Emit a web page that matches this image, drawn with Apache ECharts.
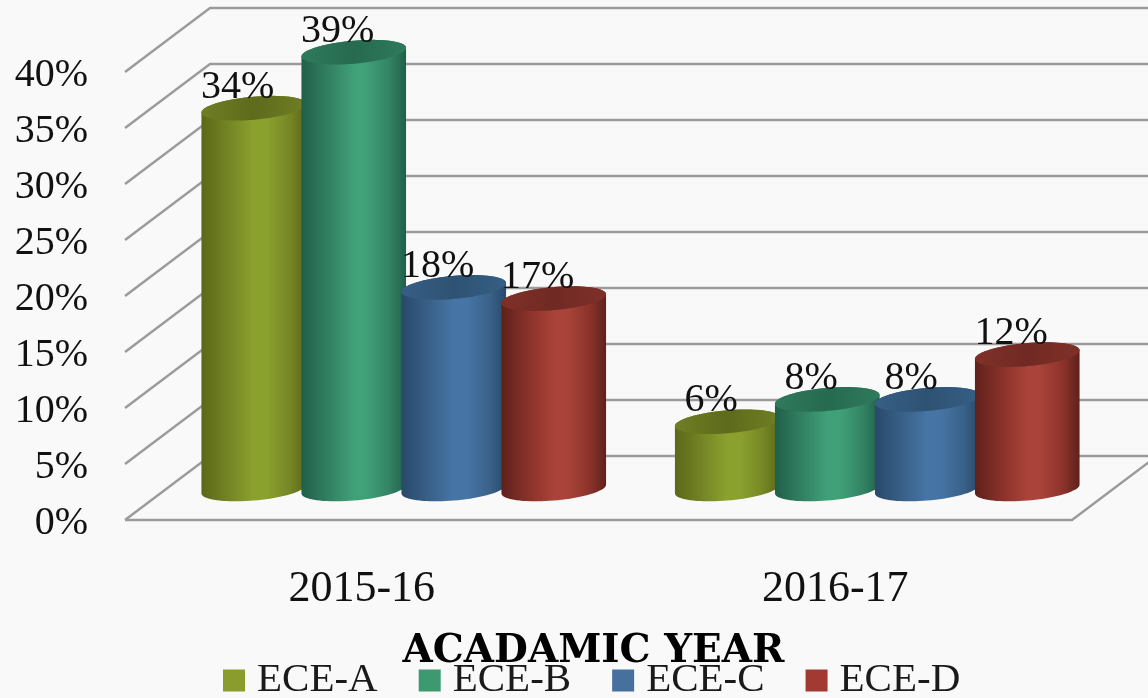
<!DOCTYPE html>
<html>
<head>
<meta charset="utf-8">
<style>html,body{margin:0;padding:0;background:#f9f9f9}#c{width:1148px;height:698px}</style>
<script src="https://cdn.jsdelivr.net/npm/echarts@6/dist/echarts.min.js"></script>
</head>
<body>
<div id="c"></div>
<script>
const categories = ['2015-16', '2016-17'];
const seriesNames = ['ECE-A', 'ECE-B', 'ECE-C', 'ECE-D'];
const eceA = [34, 6];
const eceB = [39, 8];
const eceC = [18, 8];
const eceD = [17, 12];
const yTicks = [0, 5, 10, 15, 20, 25, 30, 35, 40];

const palettes = [
  { legend: '#8a9c2b', dark: '#5c6818', mid: '#768726', base: '#8ba12e', topA: '#5e6a1c', topB: '#6f7f24' },
  { legend: '#3d9970', dark: '#215f49', mid: '#338364', base: '#40a078', topA: '#266a50', topB: '#2f7a5c' },
  { legend: '#46719f', dark: '#28496a', mid: '#3a628a', base: '#4675a5', topA: '#2e5272', topB: '#365f86' },
  { legend: '#a33a31', dark: '#5f211b', mid: '#8c332b', base: '#aa4339', topA: '#702a23', topB: '#7f3028' }
];
const FONT = '"Liberation Serif", serif';
const DEPTH_X = 85, DEPTH_Y = 64;
const BAR_DX = 42, BAR_DY = 31, TILT = 5 * Math.PI / 180;

function ellipsePts(cx, cy, rx, ry, t0, t1, n) {
  const pts = [];
  for (let i = 0; i <= n; i++) {
    const t = t0 + (t1 - t0) * i / n;
    pts.push([
      cx + rx * Math.cos(t) * Math.cos(TILT) + ry * Math.sin(t) * Math.sin(TILT),
      cy - rx * Math.cos(t) * Math.sin(TILT) + ry * Math.sin(t) * Math.cos(TILT)
    ]);
  }
  return pts;
}
function hGrad(stops) {
  return { type: 'linear', x: 0, y: 0, x2: 1, y2: 0, colorStops: stops.map(s => ({ offset: s[0], color: s[1] })) };
}
function cylinder(seriesIndex) {
  const pal = palettes[seriesIndex];
  return function (params, api) {
    const band = api.size([1, 0])[0];
    const step = band * 0.2112;
    const rx = step * 0.525, ry = 11.5;
    const top = api.coord([api.value(0), api.value(1)]);
    const bottom = api.coord([api.value(0), 0]);
    const cx = top[0] + BAR_DX + (seriesIndex - 1.5) * step;
    const cyT = top[1] - BAR_DY, cyB = bottom[1] - BAR_DY;
    const tR = Math.atan2(ry * Math.sin(TILT), rx * Math.cos(TILT));
    const body = ellipsePts(cx, cyB, rx, ry, tR, tR + Math.PI, 40)
      .concat(ellipsePts(cx, cyT, rx, ry, tR + Math.PI, tR + 2 * Math.PI, 40));
    const cap = ellipsePts(cx, cyT, rx, ry, 0, 2 * Math.PI, 80);
    return {
      type: 'group',
      children: [
        { type: 'polygon', shape: { points: body },
          style: { fill: hGrad([[0, pal.dark], [0.28, pal.mid], [0.5, pal.base], [0.62, pal.base], [0.84, pal.mid], [1, pal.dark]]) } },
        { type: 'polygon', shape: { points: cap },
          style: { fill: hGrad([[0, pal.topB], [0.5, pal.topA], [1, pal.topB]]) } },
        { type: 'text', z2: 50,
          style: { x: cx - 16, y: cyT - 21, text: api.value(1) + '%', font: '40px ' + FONT, fill: '#111', align: 'center', verticalAlign: 'middle' } }
      ]
    };
  };
}
function wallLine(params, api) {
  const y = api.coord([0, api.value(1)])[1];
  const left = params.coordSys.x, right = left + params.coordSys.width;
  const lineStyle = { stroke: '#9b9b9b', lineWidth: 2.4, fill: null };
  const children = [{ type: 'polyline',
    shape: { points: [[left, y], [left + DEPTH_X, y - DEPTH_Y], [right + DEPTH_X, y - DEPTH_Y]] }, style: lineStyle }];
  if (api.value(1) === 0) {
    children.push({ type: 'polyline',
      shape: { points: [[left, y], [right, y], [right + DEPTH_X, y - DEPTH_Y]] }, style: lineStyle });
  }
  return { type: 'group', children };
}

const dataSets = [eceA, eceB, eceC, eceD];
const chart = echarts.init(document.getElementById('c'), null, { renderer: 'canvas' });
chart.setOption({
  animation: false,
  backgroundColor: '#f9f9f9',
  grid: { left: 125, right: 76, top: 72, bottom: 178 },
  legend: {
    left: 223, top: 660, itemWidth: 22, itemHeight: 22, itemGap: 41, icon: 'rect',
    selectedMode: false, padding: 0,
    textStyle: { fontFamily: FONT, fontSize: 41, color: '#1a1a1a', padding: [0, 0, 0, 7] },
    data: seriesNames
  },
  xAxis: {
    type: 'category', data: categories,
    axisLine: { show: false }, axisTick: { show: false },
    axisLabel: { fontFamily: FONT, fontSize: 44, color: '#111', margin: 47 },
    name: 'ACADAMIC YEAR', nameLocation: 'middle', nameGap: 112,
    nameTextStyle: { fontFamily: '"DejaVu Serif", serif', fontWeight: 'bold', fontSize: 39, color: '#000', padding: [0, 10, 0, 0] }
  },
  yAxis: {
    type: 'value', min: 0, max: 40, interval: 5,
    axisLine: { show: false }, axisTick: { show: false }, splitLine: { show: false },
    axisLabel: {
      formatter: v => '{v|' + v + '%}', margin: 37,
      rich: { v: { fontFamily: FONT, fontSize: 40, color: '#111', padding: [6, 0, 0, 0] } }
    }
  },
  series: [
    { name: 'Gridlines', type: 'custom', silent: true, z: 1, renderItem: wallLine, encode: { x: 0, y: 1 },
      data: yTicks.map(v => [0, v]) }
  ].concat(seriesNames.map((name, i) => ({
    name, type: 'custom', z: 2 + i, clip: false,
    itemStyle: { color: palettes[i].legend },
    renderItem: cylinder(i), encode: { x: 0, y: 1 },
    data: dataSets[i].map((v, c) => [c, v])
  })))
});
</script>
</body>
</html>
